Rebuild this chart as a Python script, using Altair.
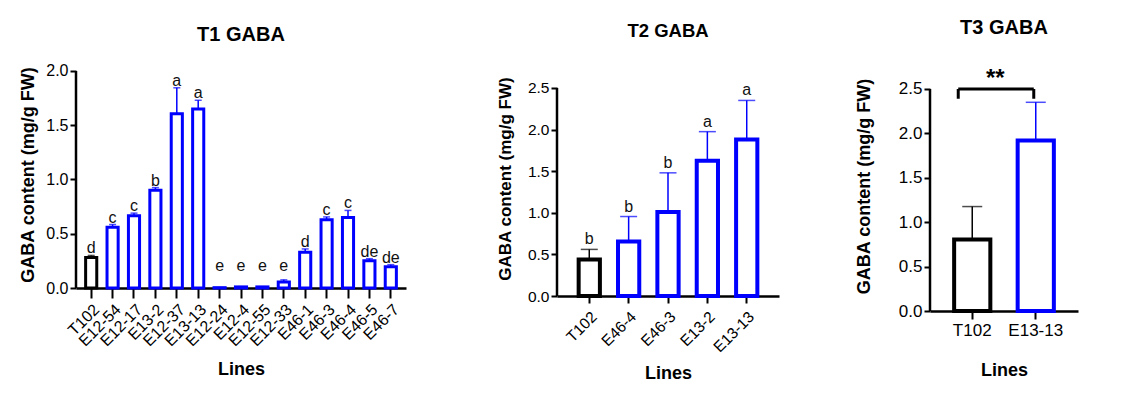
import altair as alt
import pandas as pd
import numpy as np

FONT = "Liberation Sans"
BLACK = "#000000"
BLUE = "#0000ff"

# ---------------- data ----------------
t1_lines = ["T102", "E12-54", "E12-17", "E13-2", "E12-37", "E13-13", "E12-24", "E12-4",
            "E12-55", "E12-33", "E46-1", "E46-3", "E46-4", "E46-5", "E46-7"]
t1_mean = [0.28, 0.56, 0.665, 0.90, 1.605, 1.65, 0.003, 0.01, 0.01, 0.055, 0.33, 0.63, 0.65, 0.25, 0.195]
t1_sd = [0.02, 0.025, 0.025, 0.025, 0.24, 0.08, 0.0, 0.002, 0.002, 0.02, 0.03, 0.025, 0.065, 0.02, 0.02]
t1_letters = ["d", "c", "c", "b", "a", "a", "e", "e", "e", "e", "d", "c", "c", "de", "de"]

t2_lines = ["T102", "E46-4", "E46-3", "E13-2", "E13-13"]
t2_mean = [0.44, 0.655, 1.01, 1.625, 1.88]
t2_sd = [0.12, 0.30, 0.47, 0.35, 0.47]
t2_letters = ["b", "b", "b", "a", "a"]

t3_lines = ["T102", "E13-13"]
t3_mean = [0.806, 1.92]
t3_sd = [0.37, 0.43]
t3_sig = "**"

y_label = "GABA content (mg/g FW)"
x_label = "Lines"


def frame(lines, mean, sd, letters=None, floor=0.0):
    df = pd.DataFrame({"line": lines, "mean": mean, "sd": sd})
    df["top"] = df["mean"] + df["sd"]
    df["grp"] = ["ctrl" if l == "T102" else "trans" for l in lines]
    if letters is not None:
        df["letter"] = letters
        df["label_y"] = np.maximum(df["top"], floor)
    return df


color_scale = alt.Scale(domain=["ctrl", "trans"], range=[BLACK, BLUE])


def panel(df, lines, title, width, height, ymax, yticks, axis_top, *,
          pin, pout, bar_sw, cap, err_sw, label_angle, xlab_size, ylab_size,
          ytitle_size, title_size, title_offset, ytitle_pad, xtitle_pad,
          letter_size=16, letter_dy=-2, xtick=8, xlab_pad=3):
    xscale = alt.Scale(domain=lines, paddingInner=pin, paddingOuter=pout)
    x = alt.X("line:N", scale=xscale,
              axis=alt.Axis(title=x_label, labelAngle=label_angle, labelFontSize=xlab_size,
                            titleFontSize=18, titleFontWeight="bold", titlePadding=xtitle_pad,
                            tickSize=xtick, tickWidth=2, domainWidth=2.5, labelPadding=xlab_pad))
    xs = alt.X("line:N", scale=xscale)
    y = alt.Y("mean:Q", scale=alt.Scale(domain=[0, ymax], nice=False, zero=True),
              axis=alt.Axis(title=y_label, values=yticks, format=".1f", domain=False,
                            tickSize=6, tickWidth=2, labelFontSize=ylab_size,
                            titleFontSize=ytitle_size, titleFontWeight="bold",
                            titlePadding=ytitle_pad, grid=False))
    col = alt.Color("grp:N", scale=color_scale, legend=None)
    base = alt.Chart(df)
    bars = base.mark_bar(fill="white", strokeWidth=bar_sw).encode(
        x=x, y=y, stroke=alt.Stroke("grp:N", scale=color_scale, legend=None))
    whisk = base.mark_rule(strokeWidth=err_sw).encode(x=xs, y="mean:Q", y2="top:Q", color=col)
    caps = base.mark_tick(thickness=err_sw, size=cap).encode(x=xs, y="top:Q", color=col)
    axis_df = pd.DataFrame({"lo": [0.0], "hi": [axis_top]})
    yline = alt.Chart(axis_df).mark_rule(strokeWidth=2.5, color=BLACK).encode(
        x=alt.value(0), y="lo:Q", y2="hi:Q")
    layers = [bars, whisk, caps, yline]
    if "letter" in df.columns:
        letters = base.mark_text(baseline="alphabetic", dy=letter_dy, fontSize=letter_size,
                                 font=FONT, color="#111111").encode(
            x=xs, y="label_y:Q", text="letter:N")
        layers.append(letters)
    return layers, xscale, dict(width=width, height=height,
                                title=alt.TitleParams(title, fontSize=title_size, fontWeight="bold",
                                                      font=FONT, anchor="middle", frame="group",
                                                      offset=title_offset, color=BLACK))


df1 = frame(t1_lines, t1_mean, t1_sd, t1_letters, floor=0.14)
df2 = frame(t2_lines, t2_mean, t2_sd, t2_letters)
df3 = frame(t3_lines, t3_mean, t3_sd)

l1, s1, p1 = panel(df1, t1_lines, "T1 GABA", 330, 227, 2.092, [0, 0.5, 1.0, 1.5, 2.0], 2.0,
                   pin=0.48, pout=0.45, bar_sw=3, cap=7, err_sw=1.5, label_angle=-45,
                   xlab_size=16, ylab_size=16, ytitle_size=18, title_size=20,
                   title_offset=16, ytitle_pad=8, xtitle_pad=12, xtick=10)
l2, s2, p2 = panel(df2, t2_lines, "T2 GABA", 222, 235, 2.824, [0, 0.5, 1.0, 1.5, 2.0, 2.5], 2.5,
                   pin=0.46, pout=0.55, bar_sw=4, cap=17, err_sw=1.5, label_angle=-45,
                   xlab_size=15.5, ylab_size=15.5, ytitle_size=17, title_size=18.5,
                   title_offset=21, ytitle_pad=13, xtitle_pad=9, letter_size=16, letter_dy=-5,
                   xtick=7, xlab_pad=6)
l3, s3, p3 = panel(df3, t3_lines, "T3 GABA", 148, 250, 2.815, [0, 0.5, 1.0, 1.5, 2.0, 2.5], 2.5,
                   pin=0.43, pout=0.38, bar_sw=4, cap=20, err_sw=1.5, label_angle=0,
                   xlab_size=17, ylab_size=17, ytitle_size=18, title_size=20,
                   title_offset=23, ytitle_pad=25, xtitle_pad=23, xtick=8)

# significance bracket for panel 3
br = pd.DataFrame({"a": [t3_lines[0]], "b": [t3_lines[1]], "y": [2.5], "y_end": [2.39], "txt": [t3_sig]})
xa = alt.X("a:N", scale=s3)
xb = alt.X("b:N", scale=s3)
bracket_h = alt.Chart(br).mark_rule(strokeWidth=3, color=BLACK, xOffset=-14, x2Offset=-2).encode(
    x=xa, x2="b:N", y="y:Q")
bracket_l = alt.Chart(br).mark_rule(strokeWidth=3, color=BLACK, xOffset=-14).encode(
    x=xa, y="y:Q", y2="y_end:Q")
bracket_r = alt.Chart(br).mark_rule(strokeWidth=3, color=BLACK, xOffset=-2).encode(
    x=xb, y="y:Q", y2="y_end:Q")
stars = alt.Chart(br).mark_text(fontSize=24, fontWeight="bold", font=FONT, color=BLACK,
                                baseline="middle", dx=23, dy=5).encode(
    x=xa, y=alt.datum(2.67), text="txt:N")
l3 += [bracket_h, bracket_l, bracket_r, stars]

c1 = alt.layer(*l1).properties(**p1)
c2 = alt.layer(*l2).properties(**p2)
c3 = alt.layer(*l3).properties(**p3)

chart = alt.hconcat(c1, c2, c3, spacing=151, bounds="flush").properties(
    padding={"left": 19, "top": 18, "right": 5, "bottom": 5},
    background="white",
).configure_view(stroke=None).configure_axis(
    domainColor=BLACK, tickColor=BLACK, labelColor=BLACK, titleColor=BLACK,
    labelFont=FONT, titleFont=FONT,
)

chart.save("out.html", embed_options={"renderer": "svg", "actions": False})
